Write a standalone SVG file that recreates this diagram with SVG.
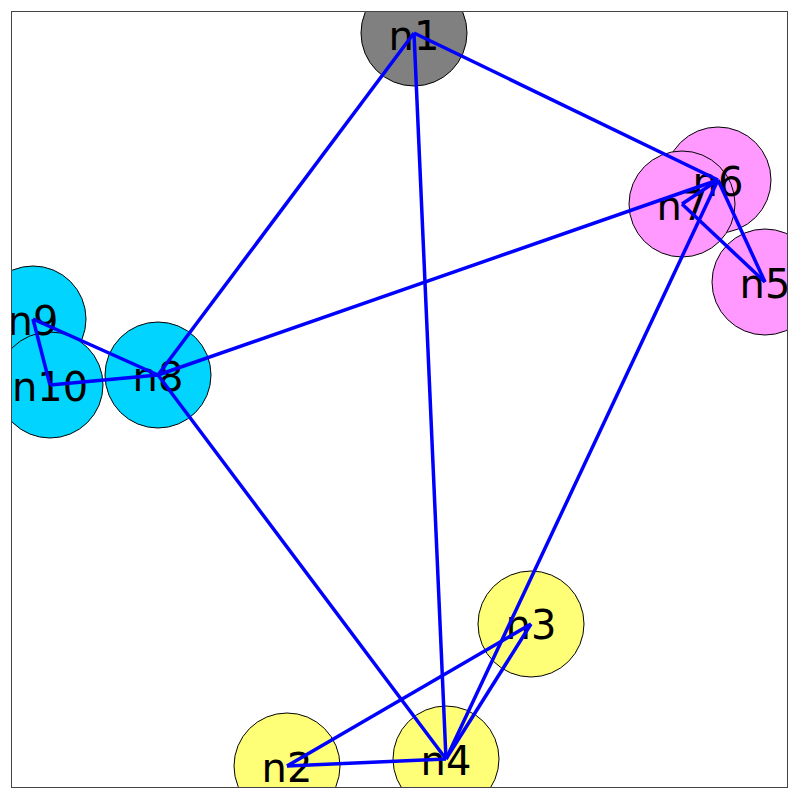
<svg xmlns="http://www.w3.org/2000/svg" width="799" height="800" viewBox="0 0 799 800">
<style>
.node circle{stroke:#000;stroke-width:1}
.node text{font-family:"DejaVu Sans",sans-serif;font-size:40px;text-anchor:middle;fill:#000}
.g circle{fill:#808080}
.p circle{fill:#ff99ff}
.c circle{fill:#00d4ff}
.y circle{fill:#ffff77}
#edges line{stroke:#0000ff;stroke-width:3.5}
</style>
<defs>
<clipPath id="frame"><rect x="11.5" y="11.5" width="776" height="776"/></clipPath>
</defs>
<rect x="0" y="0" width="799" height="800" fill="#fff"/>
<g clip-path="url(#frame)">
<g id="n1" class="node g"><circle cx="414" cy="33" r="53"/></g>
<g id="n6" class="node p"><circle cx="718" cy="180" r="53"/></g>
<g id="n7" class="node p"><circle cx="682" cy="204" r="53"/></g>
<g id="n5" class="node p"><circle cx="765" cy="282" r="53"/></g>
<g id="n9" class="node c"><circle cx="33" cy="319" r="53"/></g>
<g id="n10" class="node c"><circle cx="50" cy="385" r="53"/></g>
<g id="n8" class="node c"><circle cx="158" cy="375" r="53"/></g>
<g id="n3" class="node y"><circle cx="531" cy="624" r="53"/></g>
<g id="n4" class="node y"><circle cx="446" cy="759" r="53"/></g>
<g id="n2" class="node y"><circle cx="287" cy="766" r="53"/></g>
<g class="node">
<text x="414" y="50">n1</text>
<text x="718" y="196">n6</text>
<text x="682" y="220">n7</text>
<text x="765" y="298">n5</text>
<text x="33" y="335">n9</text>
<text x="50" y="401">n10</text>
<text x="158" y="391">n8</text>
<text x="531" y="639">n3</text>
<text x="446" y="775">n4</text>
<text x="287" y="782">n2</text>
</g>
<g id="edges">
<line x1="414" y1="33" x2="158" y2="375"/>
<line x1="414" y1="33" x2="446" y2="759"/>
<line x1="414" y1="33" x2="718" y2="180"/>
<line x1="158" y1="375" x2="718" y2="180"/>
<line x1="158" y1="375" x2="33" y2="319"/>
<line x1="158" y1="375" x2="50" y2="385"/>
<line x1="33" y1="319" x2="50" y2="385"/>
<line x1="158" y1="375" x2="446" y2="759"/>
<line x1="718" y1="180" x2="682" y2="204"/>
<line x1="718" y1="180" x2="765" y2="282"/>
<line x1="682" y1="204" x2="765" y2="282"/>
<line x1="446" y1="759" x2="718" y2="180"/>
<line x1="446" y1="759" x2="531" y2="624"/>
<line x1="287" y1="766" x2="531" y2="624"/>
<line x1="287" y1="766" x2="446" y2="759"/>
</g>
</g>
<rect x="11.5" y="11.5" width="776" height="776" fill="none" stroke="#444" stroke-width="1"/>
</svg>
